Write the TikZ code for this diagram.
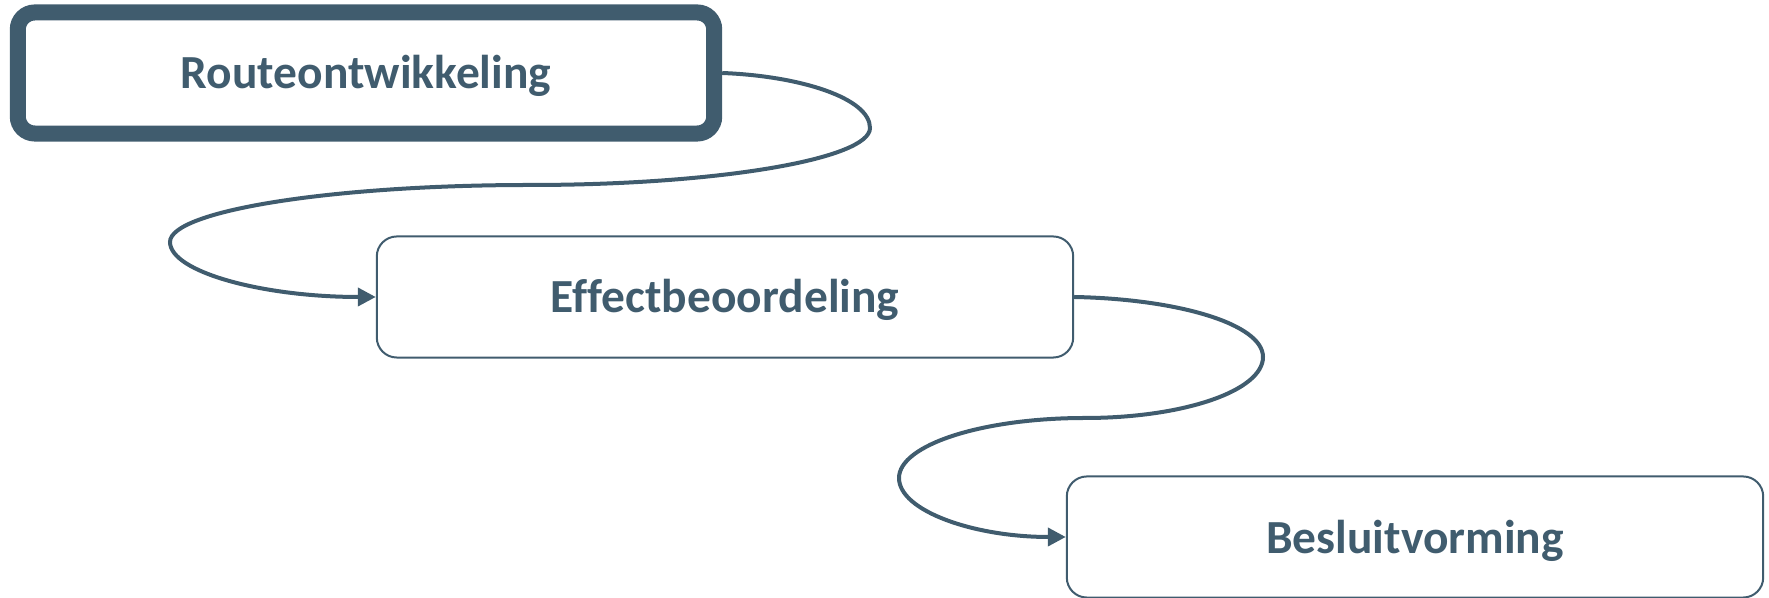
\documentclass[tikz,border=0pt]{standalone}
\usepackage{fontspec}
\setmainfont{Carlito}[Ligatures=NoCommon]
\usetikzlibrary{arrows.meta}
\definecolor{slatetext}{HTML}{405C6E}

\begin{document}
\begin{tikzpicture}[x=0.01cm, y=-0.01cm,
        stage/.style={shape=rectangle, draw=slatetext, line width=0.02cm, rounded corners=0.2cm,
            minimum width=6.96cm, minimum height=1.21cm, inner sep=0pt,
            text height=0.32cm, text depth=0pt,
            text=slatetext, font=\fontsize{13.5}{16}\selectfont\bfseries},
        flow/.style={draw=slatetext, line width=0.04cm, -{Triangle[length=0.18cm, width=0.18cm]}}]
        \useasboundingbox (0,0) rectangle (1769,598);
        % Nodes
        \node[stage, line width=0.16cm, rounded corners=0.17cm] (R) at (366,73) {Routeontwikkeling};
        \node[stage] (E) at (725,297) {Effectbeoordeling};
        \node[stage] (B) at (1415,537) {Besluitvorming};
        % Looping arrows from stage to stage
        \path[flow] (R.east) .. controls (800,76) and (870,98) .. (870,128)
            .. controls (870,159) and (718,185) .. (530,185)
            .. controls (331,185) and (170,211) .. (170,242)
            .. controls (170,272) and (263,297) .. (E.west);
        \path[flow] (E.east) .. controls (1178,299) and (1263,324) .. (1263,357)
            .. controls (1263,391) and (1183,418) .. (1085,418)
            .. controls (982,418) and (899,445) .. (899,478)
            .. controls (899,511) and (974,537) .. (B.west);
    \end{tikzpicture}
\end{document}
